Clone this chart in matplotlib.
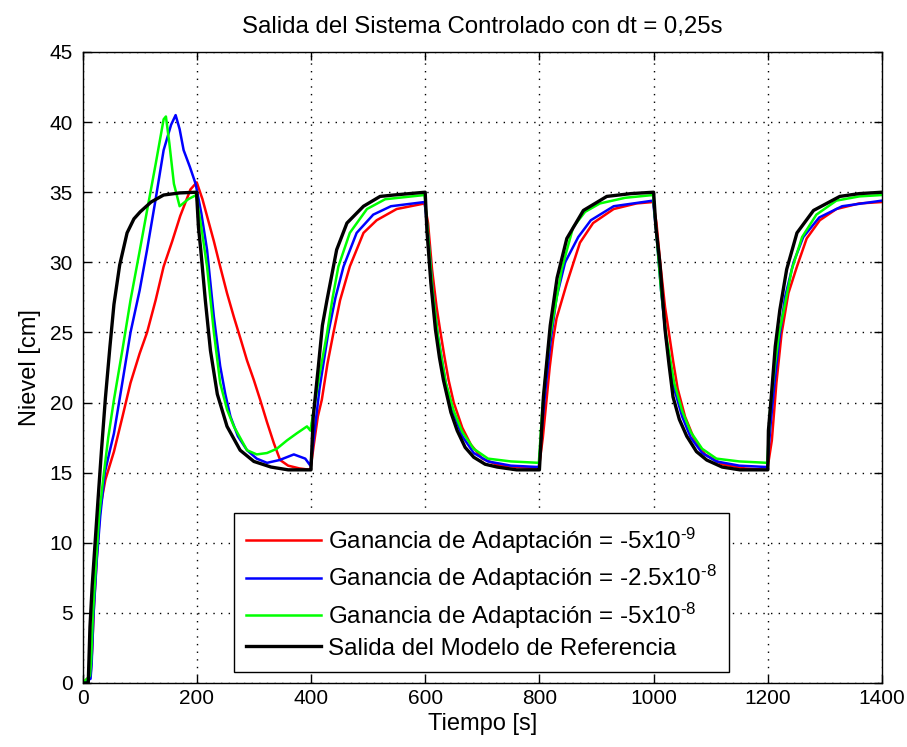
import matplotlib
matplotlib.use("Agg")
import matplotlib.pyplot as plt

plt.rcParams['font.family'] = ['Liberation Sans', 'DejaVu Sans']
plt.rcParams['mathtext.fontset'] = 'custom'
plt.rcParams['mathtext.rm'] = 'Liberation Sans'
plt.rcParams['mathtext.it'] = 'Liberation Sans:italic'

# Reference model output (black)
t_ref = [0, 10, 13, 17, 22, 27, 33, 40, 48, 55, 65, 78, 90, 101, 120, 142, 170, 199.9,
         200, 203, 207, 215, 224, 236, 253, 276, 300, 330, 360, 399.9,
         400, 404, 413, 420, 428, 445, 463, 492, 521, 545, 599.9,
         600, 603, 610, 618, 625, 632, 645, 656, 670, 685, 705, 726, 760, 799.9,
         800, 807, 819, 831, 848, 877, 918, 960, 999.9,
         1000, 1004, 1011, 1020, 1027, 1034, 1045, 1058, 1075, 1093, 1120, 1151, 1199.9,
         1200, 1201, 1207, 1213, 1221, 1233, 1251, 1280, 1326, 1360, 1400]
y_ref = [0, 0, 4, 7, 10, 13, 16.5, 20.3, 24, 27, 29.8, 32.1, 33.1, 33.6, 34.3, 34.8, 34.95, 35,
         34.7, 32.5, 30.9, 27.3, 23.7, 20.6, 18.3, 16.6, 15.8, 15.4, 15.2, 15.2,
         15.2, 19, 22.6, 25.5, 27.3, 30.9, 32.8, 34, 34.7, 34.8, 35,
         35, 32.3, 28.5, 25.2, 23.2, 21.6, 19.3, 18, 16.8, 16.1, 15.6, 15.4, 15.2, 15.2,
         15.2, 20.4, 25.5, 28.9, 31.7, 33.7, 34.7, 34.9, 35,
         35, 32.5, 29.9, 25.2, 22.7, 20.4, 18.8, 17.6, 16.5, 15.9, 15.4, 15.2, 15.2,
         15.4, 18, 20.9, 24, 26.6, 29.5, 32.1, 33.7, 34.7, 34.9, 35]

# Ganancia -5e-9 (red)
t_red = [0, 14, 17, 20, 25, 31, 40, 55, 70, 84, 100, 113, 128, 142, 157, 171, 189, 200,
         210, 218, 230, 241, 253, 265, 277, 288, 300, 311, 323, 335, 346, 360, 380, 399,
         405, 412, 419, 429, 439, 451, 468, 492, 515, 550, 599,
         605, 612, 620, 626, 634, 641, 650, 665, 680, 700, 730, 799,
         806, 813, 818, 824, 830, 848, 871, 894, 930, 970, 999,
         1005, 1012, 1020, 1026, 1034, 1042, 1055, 1070, 1090, 1120, 1160, 1199,
         1207, 1215, 1224, 1236, 1251, 1268, 1291, 1320, 1360, 1400]
y_red = [0, 0.5, 2.5, 5.5, 9, 12.5, 14.5, 16.5, 19, 21.4, 23.5, 25, 27.3, 29.7, 31.5, 33.3, 35.2, 35.7,
         34.5, 33.3, 31.5, 29.7, 27.8, 26.1, 24.5, 23, 21.6, 20.2, 18.6, 17.1, 15.9, 15.5, 15.3, 15.2,
         17, 19, 20.2, 22.8, 24.9, 27.3, 29.7, 32.1, 33, 33.8, 34.2,
         32.8, 29.5, 26.8, 25.2, 23.2, 21.6, 20, 18.2, 17, 16, 15.5, 15.3,
         17.5, 20.4, 22.5, 24.5, 26, 28.5, 31.4, 32.8, 33.8, 34.2, 34.3,
         32.8, 29.8, 26.8, 25.2, 23, 21, 19, 17.5, 16.3, 15.6, 15.3, 15.2,
         17.3, 21.4, 24.9, 27.8, 29.7, 31.7, 33, 33.8, 34.2, 34.3]

# Ganancia -2.5e-8 (blue)
t_blue = [0, 14, 16, 19, 25, 31, 39, 48, 55, 70, 84, 100, 113, 128, 142, 155, 163, 170, 177, 188, 198,
          208, 218, 230, 241, 250, 259, 272, 288, 305, 323, 345, 370, 390, 399,
          405, 415, 430, 443, 457, 480, 509, 540, 599,
          605, 613, 622, 636, 650, 665, 685, 710, 750, 799,
          805, 812, 820, 830, 845, 868, 890, 930, 999,
          1005, 1013, 1022, 1036, 1050, 1065, 1085, 1110, 1150, 1199,
          1205, 1212, 1220, 1230, 1245, 1262, 1290, 1330, 1400]
y_blue = [0, 0.3, 1.4, 4.7, 8.8, 11.9, 15, 16.6, 17.8, 21.5, 25, 28, 30.9, 34.5, 38, 39.8, 40.5, 39.5, 38, 36.8, 35.6,
          33.5, 30.9, 26.1, 22.6, 20.6, 19, 17.6, 16.6, 16, 15.7, 15.9, 16.3, 16, 15.5,
          17.5, 21, 24.9, 27.5, 29.7, 32.1, 33.4, 34, 34.3,
          32, 28, 24.8, 21.4, 19.2, 17.6, 16.4, 15.8, 15.5, 15.4,
          18.5, 21.5, 24.5, 27.5, 30, 31.8, 33, 34, 34.4,
          32, 28, 24.5, 21, 19, 17.5, 16.4, 15.8, 15.5, 15.4,
          18.5, 21.5, 24.5, 27.5, 30, 31.8, 33.2, 34, 34.4]

# Ganancia -5e-8 (green)
t_green = [0, 13, 15, 18, 24, 29, 36, 45, 55, 70, 84, 100, 113, 128, 142, 146, 152, 160, 170, 185, 199,
           208, 218, 230, 241, 253, 265, 288, 305, 323, 340, 358, 375, 393, 399,
           405, 415, 428, 438, 448, 468, 498, 530, 599,
           605, 613, 622, 636, 650, 665, 685, 710, 750, 799,
           805, 812, 818, 824, 839, 859, 880, 906, 950, 999,
           1005, 1013, 1022, 1036, 1050, 1065, 1085, 1110, 1150, 1199,
           1204, 1212, 1220, 1227, 1242, 1260, 1285, 1320, 1360, 1400]
y_green = [0, 0.5, 1.5, 4.7, 8.8, 11.9, 14.5, 17.5, 20.2, 23.8, 27.3, 30.8, 33.7, 37, 40.2, 40.4, 38.5, 35.6, 34, 34.5, 34.8,
           32.5, 29.7, 25, 21.4, 19.5, 18.3, 16.6, 16.3, 16.4, 16.7, 17.3, 17.8, 18.3, 18,
           19.5, 22, 24.9, 27.5, 29.7, 32.1, 33.8, 34.5, 34.8,
           32, 28, 24.8, 21.4, 19.4, 17.9, 16.7, 16, 15.8, 15.7,
           19.5, 22.5, 24.5, 26, 29.5, 32.5, 33.6, 34.2, 34.6, 34.8,
           32, 28, 24.8, 21.4, 19.4, 17.9, 16.7, 16, 15.8, 15.7,
           19.5, 22.5, 25, 26.4, 29.5, 31.8, 33.4, 34.4, 34.7, 34.8]

labels = ['Ganancia de Adaptación = -5x10$^{\\text{-9}}$',
          'Ganancia de Adaptación = -2.5x10$^{\\text{-8}}$',
          'Ganancia de Adaptación = -5x10$^{\\text{-8}}$',
          'Salida del Modelo de Referencia']

fig = plt.figure(figsize=(9.07, 7.47), dpi=100)
ax = fig.add_axes([0.091, 0.0857, 0.8815, 0.8447])

ax.plot(t_red, y_red, color='#ff0000', linewidth=1.8, label=labels[0])
ax.plot(t_blue, y_blue, color='#0000ff', linewidth=1.8, label=labels[1])
ax.plot(t_green, y_green, color='#00ff00', linewidth=1.8, label=labels[2])
ax.plot(t_ref, y_ref, color='black', linewidth=2.4, label=labels[3])

ax.set_xlim(0, 1400)
ax.set_ylim(0, 45)
ax.set_xticks(range(0, 1401, 200))
ax.set_yticks(range(0, 46, 5))
ax.grid(True, color='black', linestyle=(0, (1, 4.5)), linewidth=1.0)
ax.tick_params(direction='in', length=6, width=1, top=True, right=True, labelsize=15)
ax.tick_params(axis='x', pad=4)
ax.tick_params(axis='y', pad=7)
for s in ax.spines.values():
    s.set_linewidth(1.0)

ax.set_title('Salida del Sistema Controlado con dt = 0,25s', fontsize=17.3, pad=14)
ax.set_xlabel('Tiempo [s]', fontsize=17, labelpad=4)
ax.set_ylabel('Nievel [cm]', fontsize=17, labelpad=6)

leg = ax.legend(loc='lower left', bbox_to_anchor=(0.1895, 0.0174), borderaxespad=0,
                fontsize=17.4, handlelength=3.1, handletextpad=0.3, labelspacing=0.3,
                borderpad=0.5, fancybox=False, framealpha=1, edgecolor='black')
leg.get_frame().set_linewidth(1.0)

fig.savefig('out.png', dpi=100)
